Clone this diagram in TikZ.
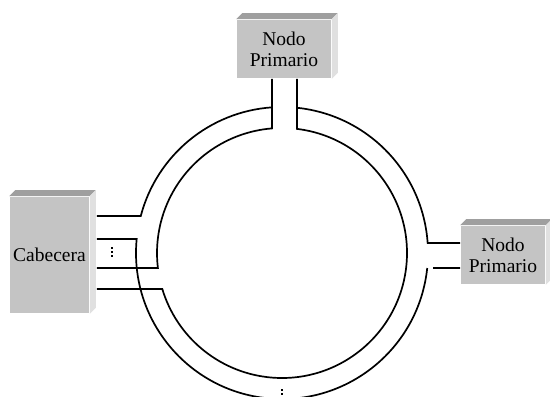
\documentclass[tikz,border=0pt]{standalone}
\usepackage{fontspec}
\setmainfont{Liberation Serif}
\usetikzlibrary{calc}

\begin{document}
\begin{tikzpicture}[x=1pt, y=1pt, line width=1.7pt,
    caja/.style={fill=gray!46, inner sep=0pt, align=center, font=\fontsize{19.5}{21}\selectfont},
    punto/.style={fill=black, inner sep=0pt, minimum size=1.9pt}]
    \useasboundingbox (0,0) rectangle (550,397);

    % cajas
    \node[caja, minimum width=79, minimum height=116] (cab) at (49.5,142) {Cabecera};
    \node[caja, minimum width=94, minimum height=58] (np1) at (284,348) {Nodo\\Primario};
    \node[caja, minimum width=84, minimum height=58] (np2) at (503,142) {Nodo\\Primario};

    \foreach \n in {cab,np1,np2} {
        \fill[gray!75] (\n.north west) -- ++(6,6) -- ([shift={(6,6)}]\n.north east) -- (\n.north east) -- cycle;
        \fill[gray!24] (\n.north east) -- ++(6,6) -- ([shift={(6,6)}]\n.south east) -- (\n.south east) -- cycle;
    }

    \coordinate (c) at (282,144);

    % anillo exterior
    \draw ([xshift=7,yshift=39]cab.east) -- ($(c)+(165.3:146)$) arc[start angle=165.3, end angle=93.9, radius=146];
    \draw ([xshift=7,yshift=16]cab.east) -- ($(c)+(174.5:146)$) arc[start angle=174.5, end angle=354.1, radius=146];
    \draw ([yshift=12]np2.west) -- ($(c)+(3.9:146)$) arc[start angle=3.9, end angle=84.1, radius=146];
    \draw ([yshift=-13]np2.west) -- ($(c)+(-5.9:146)+(6,0)$);

    % anillo interior
    \draw ([xshift=-12]np1.south) -- ($(c)+(94.6:125)$) arc[start angle=94.6, end angle=186.9, radius=125]
        -- ([xshift=7,yshift=-13]cab.east);
    \draw ([xshift=13]np1.south) -- ($(c)+(83.1:125)$) arc[start angle=83.1, end angle=-163.3, radius=125]
        -- ([xshift=7,yshift=-34]cab.east);

    % puntos
    \foreach \i/\y in {1/149,2/145,3/141}
        \node[punto] (pc\i) at (112,\y) {};
    \foreach \i/\y in {1/7,2/3,3/-1}
        \node[punto] (pa\i) at (282,\y) {};
\end{tikzpicture}
\end{document}
